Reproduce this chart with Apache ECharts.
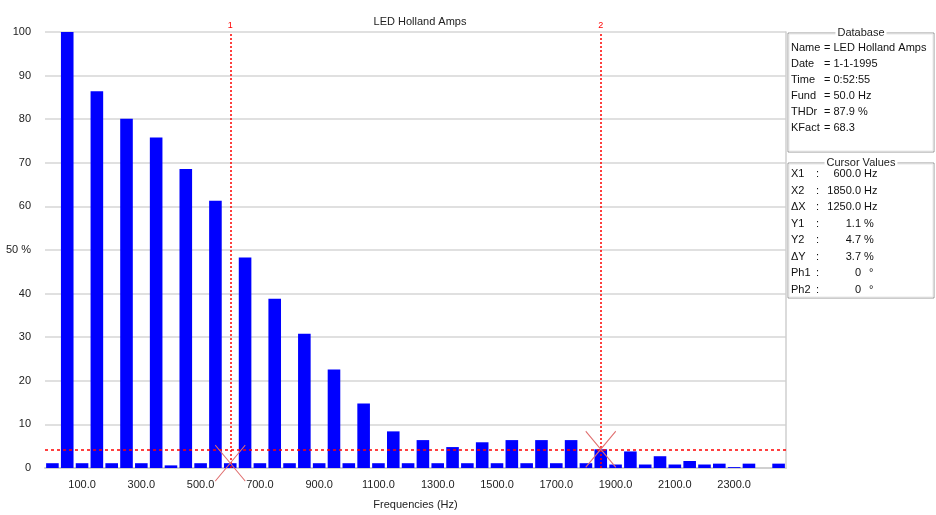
<!DOCTYPE html>
<html>
<head>
<meta charset="utf-8">
<script src="https://cdn.jsdelivr.net/npm/echarts@6/dist/echarts.min.js"></script>
<style>
  html, body { margin: 0; padding: 0; background: #fff; }
  #chart { width: 936px; height: 515px; }
</style>
</head>
<body>
<div id="chart"></div>
<script>
// harmonic frequencies (Hz), one bar each
const frequencies = [
  0, 50, 100, 150, 200, 250, 300, 350, 400, 450,
  500, 550, 600, 650, 700, 750, 800, 850, 900, 950,
  1000, 1050, 1100, 1150, 1200, 1250, 1300, 1350, 1400, 1450,
  1500, 1550, 1600, 1650, 1700, 1750, 1800, 1850, 1900, 1950,
  2000, 2050, 2100, 2150, 2200, 2250, 2300, 2350, 2400, 2450
];
// amplitude in % of fundamental
const amplitudes = [
  1.1, 100, 1.1, 86.4, 1.1, 80.1, 1.1, 75.8, 0.6, 68.6,
  1.1, 61.3, 1.1, 48.3, 1.1, 38.8, 1.1, 30.8, 1.1, 22.6,
  1.1, 14.8, 1.1, 8.4, 1.1, 6.4, 1.1, 4.8, 1.1, 5.9,
  1.1, 6.4, 1.1, 6.4, 1.1, 6.4, 1.1, 4.3, 0.8, 3.8,
  0.8, 2.7, 0.8, 1.6, 0.8, 1.0, 0.2, 1.0, 0, 1.0
];
// frequencies that get a tick label
const labelledFreqs = [100, 300, 500, 700, 900, 1100, 1300, 1500, 1700, 1900, 2100, 2300];

// cursors (where they sit on the plot)
const cursorX = [600, 1850];
const cursorY = [1.1, 4.3];

// side panels
const dataLabels = ['Name', 'Date', 'Time', 'Fund', 'THDr', 'KFact'];
const dataValues = ['LED Holland Amps', '1-1-1995', '0:52:55', '50.0 Hz', '87.9 %', '68.3'];
const cursorLabels = ['X1', 'X2', '\u0394X', 'Y1', 'Y2', '\u0394Y', 'Ph1', 'Ph2'];
const cursorNums = ['600.0', '1850.0', '1250.0', '1.1', '4.7', '3.7', '0', '0'];
const cursorUnits = ['Hz', 'Hz', 'Hz', '%', '%', '%', '\u00b0', '\u00b0'];

const FONT = 'Liberation Sans';
const RED = '#ff0000';
const chart = echarts.init(document.getElementById('chart'));

const crossPath = 'path://M0,0L10,10M10,0L0,10';

// 面板文字
const graphics = [];
function groupBox(x, y, w, h, title) {
  graphics.push({
    type: 'rect', shape: { x: x, y: y, width: w, height: h },
    style: { fill: 'none', stroke: '#9a9a9a', lineWidth: 1 }
  });
  graphics.push({
    type: 'rect', shape: { x: x + 1, y: y + 1, width: w - 2, height: h - 2 },
    style: { fill: 'none', stroke: '#e8e8e8', lineWidth: 1 }
  });
  graphics.push({
    type: 'text', x: x + w / 2, y: y,
    style: {
      text: title, font: '11px ' + FONT, fill: '#222',
      align: 'center', verticalAlign: 'middle',
      backgroundColor: '#fff', padding: [0, 2]
    }
  });
}
groupBox(788, 33, 146, 119, 'Database');
dataLabels.forEach((lab, i) => {
  const y = 48 + i * 16;
  graphics.push({ type: 'text', x: 791, y: y,
    style: { text: lab, font: '11px ' + FONT, fill: '#111', verticalAlign: 'middle' } });
  graphics.push({ type: 'text', x: 824, y: y,
    style: { text: '= ' + dataValues[i], font: '11px ' + FONT, fill: '#111', verticalAlign: 'middle' } });
});
groupBox(788, 163, 146, 135, 'Cursor Values');
cursorLabels.forEach((lab, i) => {
  const y = 174 + i * 16.5;
  graphics.push({ type: 'text', x: 791, y: y,
    style: { text: lab, font: '11px ' + FONT, fill: '#111', verticalAlign: 'middle' } });
  graphics.push({ type: 'text', x: 816, y: y,
    style: { text: ':', font: '11px ' + FONT, fill: '#111', verticalAlign: 'middle' } });
  graphics.push({ type: 'text', x: 861, y: y,
    style: { text: cursorNums[i], font: '11px ' + FONT, fill: '#111', align: 'right', verticalAlign: 'middle' } });
  graphics.push({ type: 'text', x: cursorUnits[i] === '\u00b0' ? 869 : 864, y: y,
    style: { text: cursorUnits[i], font: '11px ' + FONT, fill: '#111', verticalAlign: 'middle' } });
});

// 每条光标线单独一个系列
function cursorSeries(item, dash) {
  return {
    type: 'line',
    data: [],
    silent: true,
    color: RED,
    markLine: {
      silent: true,
      symbol: 'none',
      lineStyle: { color: RED, type: dash, width: 1.5 },
      label: { show: true, position: 'end', color: RED, fontSize: 9, distance: 2 },
      data: [item]
    }
  };
}

chart.setOption({
  animation: false,
  title: {
    text: 'LED Holland Amps',
    left: 415, top: 11, textAlign: 'center',
    textStyle: { fontFamily: FONT, fontSize: 11, fontWeight: 'normal', color: '#222' }
  },
  grid: { left: 45, right: 150, top: 32, bottom: 44 },
  xAxis: {
    type: 'category',
    data: frequencies.map(f => f.toFixed(1)),
    name: 'Frequencies (Hz)',
    nameLocation: 'middle',
    nameGap: 31,
    nameTextStyle: { fontFamily: FONT, fontSize: 11, color: '#222' },
    axisLine: { lineStyle: { color: '#d0d0d0', width: 2 } },
    axisTick: { show: false },
    axisLabel: {
      interval: (idx) => labelledFreqs.indexOf(frequencies[idx]) >= 0,
      fontFamily: FONT, fontSize: 11, color: '#222', margin: 11
    }
  },
  yAxis: [{
    type: 'value', min: 0, max: 100, interval: 10,
    axisLine: { show: false },
    axisTick: { show: false },
    axisLabel: {
      fontFamily: FONT, fontSize: 11, color: '#222', margin: 14,
      formatter: (v) => v === 50 ? '50 %' : String(v)
    },
    splitLine: { lineStyle: { color: '#d6d6d6', width: 1.5 } }
  }, {
    type: 'value', min: 0, max: 100, interval: 10, position: 'right',
    axisLine: { show: true, lineStyle: { color: '#cfcfcf', width: 1.5 } },
    axisTick: { show: false }, axisLabel: { show: false }, splitLine: { show: false }
  }],
  series: [{
    type: 'bar',
    data: amplitudes,
    barWidth: '85%',
    itemStyle: { color: '#0000ff' },
    markPoint: {
      silent: true,
      symbol: crossPath,
      symbolSize: [30, 36],
      itemStyle: { color: 'none', borderColor: '#e07070', borderWidth: 1 },
      label: { show: false },
      data: [
        { coord: [frequencies.indexOf(cursorX[0]), cursorY[0]] },
        { coord: [frequencies.indexOf(cursorX[1]), cursorY[1]] }
      ]
    }
  },
  cursorSeries({ xAxis: frequencies.indexOf(cursorX[0]), label: { formatter: '1' } }, [2, 2]),
  cursorSeries({ xAxis: frequencies.indexOf(cursorX[1]), label: { formatter: '2' } }, [2, 2]),
  cursorSeries({ yAxis: cursorY[1], label: { show: false } }, [3, 3])
  ],
  graphic: graphics
});
</script>
</body>
</html>
